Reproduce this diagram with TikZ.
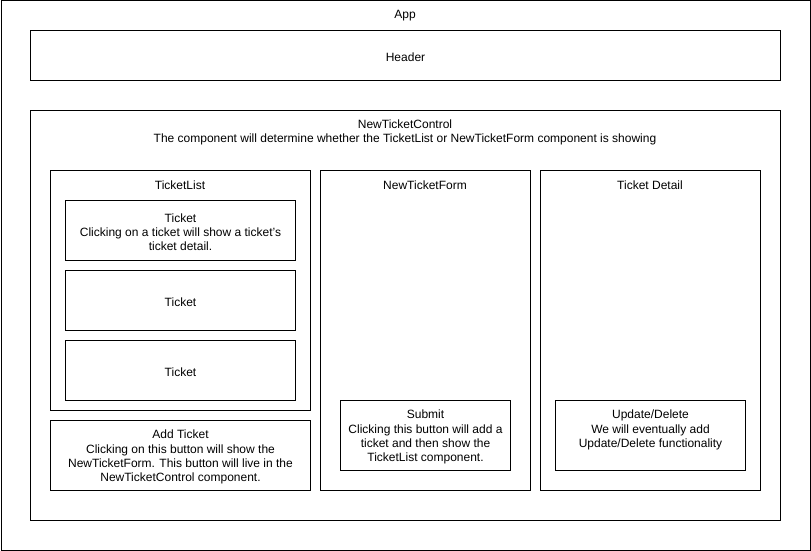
\documentclass[tikz,border=0pt]{standalone}
\usepackage{fontspec}
\setmainfont{Liberation Sans}
\begin{document}
\begin{tikzpicture}[x=1pt,y=-1pt,
  box/.style={draw=black,line width=1pt,fill=white,inner sep=0pt,anchor=north west},
  txt/.style={inner sep=0pt,align=center,yshift=-1.5pt,font=\fontsize{12}{14.2}\selectfont}]
\useasboundingbox (0,0) rectangle (811,551);
\fill[white] (0,0) rectangle (811,551);
% App
\node[box,minimum width=809pt,minimum height=549pt] (app) at (0.5,0.5) {};
\node[txt] (apptxt) at (405,14) {App};
% Header
\node[box,minimum width=750pt,minimum height=50pt] (header) at (30,30) {};
\node[txt] at (header.center) {Header};
% NewTicketControl
\node[box,minimum width=750pt,minimum height=410pt] (ntc) at (30,110) {};
\node[txt] (ntctxt) at (405,131) {NewTicketControl\\The component will determine whether the TicketList or NewTicketForm component is showing};
% TicketList
\node[box,minimum width=260pt,minimum height=240pt] (tl) at (50,170) {};
\node[txt] (tltxt) at (180,184) {TicketList};
\node[box,minimum width=230pt,minimum height=60pt] (t1) at (65,200) {};
\node[txt] at (t1.center) {Ticket\\Clicking on a ticket will show a ticket's\\ticket detail.};
\node[box,minimum width=230pt,minimum height=60pt] (t2) at (65,270) {};
\node[txt] at (t2.center) {Ticket};
\node[box,minimum width=230pt,minimum height=60pt] (t3) at (65,340) {};
\node[txt] at (t3.center) {Ticket};
% Add Ticket
\node[box,minimum width=260pt,minimum height=70pt] (add) at (50,420) {};
\node[txt] at (add.center) {Add Ticket\\Clicking on this button will show the\\NewTicketForm. This button will live in the\\NewTicketControl component.};
% NewTicketForm
\node[box,minimum width=210pt,minimum height=320pt] (ntf) at (320,170) {};
\node[txt] (ntftxt) at (425,184) {NewTicketForm};
\node[box,minimum width=170pt,minimum height=70pt] (submit) at (340,400) {};
\node[txt] at (submit.center) {Submit\\Clicking this button will add a\\ticket and then show the\\TicketList component.};
% Ticket Detail
\node[box,minimum width=220pt,minimum height=320pt] (td) at (540,170) {};
\node[txt] (tdtxt) at (650,184) {Ticket Detail};
\node[box,minimum width=190pt,minimum height=70pt] (ud) at (555,400) {};
\node[txt] at ([yshift=7pt]ud.center) {Update/Delete\\We will eventually add\\Update/Delete functionality};
\end{tikzpicture}
\end{document}
